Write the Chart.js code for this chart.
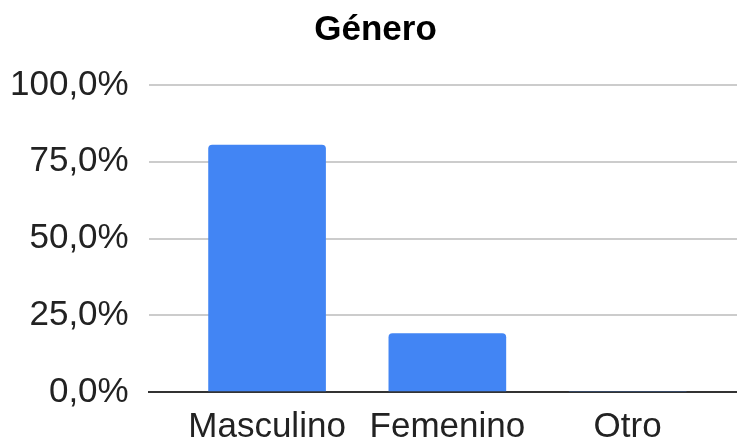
<!DOCTYPE html>
<html>
<head>
<meta charset="utf-8">
<script src="https://cdn.jsdelivr.net/npm/chart.js@4"></script>
<style>
  html, body { margin: 0; padding: 0; background: #fff; }
  #wrap { width: 737px; height: 444px; overflow: hidden; }
</style>
</head>
<body>
<div id="wrap"><canvas id="barChart"></canvas></div>
<script>
const categorias = ['Masculino', 'Femenino', 'Otro'];
const porcentajes = [80.4, 19.0, 0];
const marcasY = [0, 25, 50, 75, 100];

const fuente = 'Arial, "Liberation Sans", sans-serif';
const ctx = document.getElementById('barChart').getContext('2d');

// tick padding is counted twice by the axis fit, so the layout padding compensates
const chart = new Chart(ctx, {
    type: 'bar',
    data: {
        datasets: [{
            label: 'Género',
            data: porcentajes.map((v, i) => ({ x: i, y: v })),
            backgroundColor: '#4285f4',
            borderRadius: { topLeft: 4, topRight: 4 },
            borderSkipped: 'start',
            barThickness: 117
        }]
    },
    options: {
        responsive: true,
        maintainAspectRatio: false,
        animation: false,
        layout: { padding: { left: -10, right: -24, top: 0, bottom: -18 } },
        plugins: {
            legend: { display: false },
            tooltip: { enabled: false },
            title: {
                display: true,
                text: 'Género',
                color: '#000',
                font: { family: fuente, size: 35, weight: 'bold' },
                padding: { top: 9, bottom: 34 }
            }
        },
        scales: {
            x: {
                type: 'linear',
                offset: false,
                min: -0.6565,
                max: 2.6066,
                afterBuildTicks: axis => { axis.ticks = categorias.map((c, i) => ({ value: i })); },
                ticks: {
                    callback: value => categorias[value],
                    color: '#222',
                    font: { family: fuente, size: 35 },
                    padding: 14,
                    maxRotation: 0,
                    minRotation: 0,
                    autoSkip: false
                },
                grid: { display: false, drawTicks: false },
                border: { display: true, color: '#333', width: 2 }
            },
            y: {
                min: 0,
                max: 100,
                afterBuildTicks: axis => { axis.ticks = marcasY.map(v => ({ value: v })); },
                ticks: {
                    callback: value => value.toFixed(1).replace('.', ',') + '%',
                    color: '#222',
                    font: { family: fuente, size: 35 },
                    padding: 20
                },
                grid: { color: '#cccccc', lineWidth: 2, drawTicks: false },
                border: { display: false }
            }
        }
    }
});
</script>
</body>
</html>
